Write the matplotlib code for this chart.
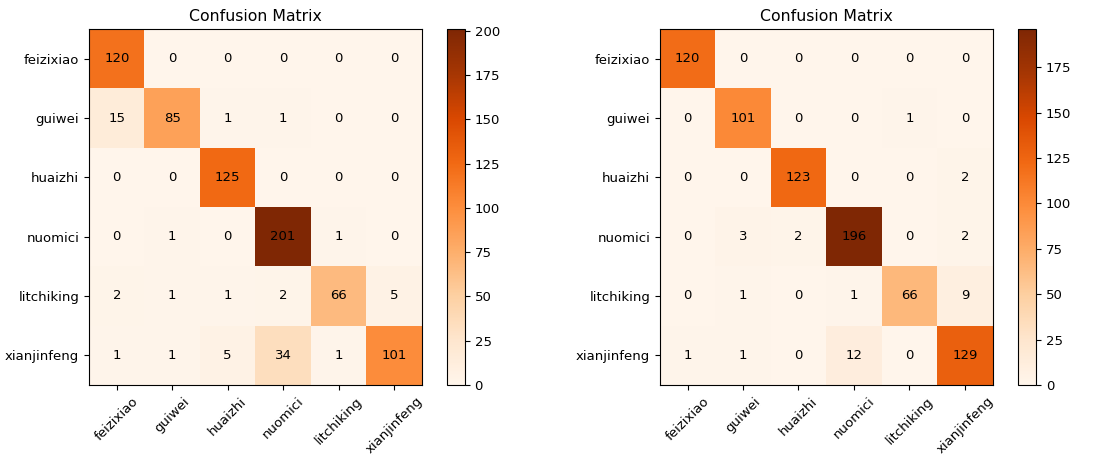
import matplotlib
matplotlib.use('Agg')
import matplotlib.pyplot as plt
import numpy as np

classes = ['feizixiao', 'guiwei', 'huaizhi', 'nuomici', 'litchiking', 'xianjinfeng']

cm_left = [
    [120, 0, 0, 0, 0, 0],
    [15, 85, 1, 1, 0, 0],
    [0, 0, 125, 0, 0, 0],
    [0, 1, 0, 201, 1, 0],
    [2, 1, 1, 2, 66, 5],
    [1, 1, 5, 34, 1, 101],
]

cm_right = [
    [120, 0, 0, 0, 0, 0],
    [0, 101, 0, 0, 1, 0],
    [0, 0, 123, 0, 0, 2],
    [0, 3, 2, 196, 0, 2],
    [0, 1, 0, 1, 66, 9],
    [1, 1, 0, 12, 0, 129],
]


def draw_cm(fig, cm, ax_rect, cb_rect):
    """画一个混淆矩阵和色条"""
    cm = np.array(cm)
    ax = fig.add_axes(ax_rect)
    cax = fig.add_axes(cb_rect)
    im = ax.imshow(cm, cmap='Oranges', aspect='auto', interpolation='nearest')
    ax.set_title('Confusion Matrix', fontsize=11.3)
    ticks = np.arange(len(classes))
    ax.set_xticks(ticks)
    ax.set_xticklabels(classes, rotation=45, fontsize=9.5)
    ax.set_yticks(ticks)
    ax.set_yticklabels(classes, fontsize=9.5)
    for i in range(cm.shape[0]):
        for j in range(cm.shape[1]):
            ax.text(j, i, str(cm[i, j]), ha='center', va='center',
                    color='black', fontsize=9.5)
    cb = fig.colorbar(im, cax=cax)
    cb.ax.tick_params(labelsize=9.5)
    return ax


fig = plt.figure(figsize=(11.09, 4.61), dpi=100)
draw_cm(fig, cm_left, [0.0803, 0.165, 0.300, 0.772], [0.403, 0.165, 0.0162, 0.772])
draw_cm(fig, cm_right, [0.595, 0.165, 0.300, 0.772], [0.918, 0.165, 0.0162, 0.772])
plt.savefig('out.png', dpi=100)
